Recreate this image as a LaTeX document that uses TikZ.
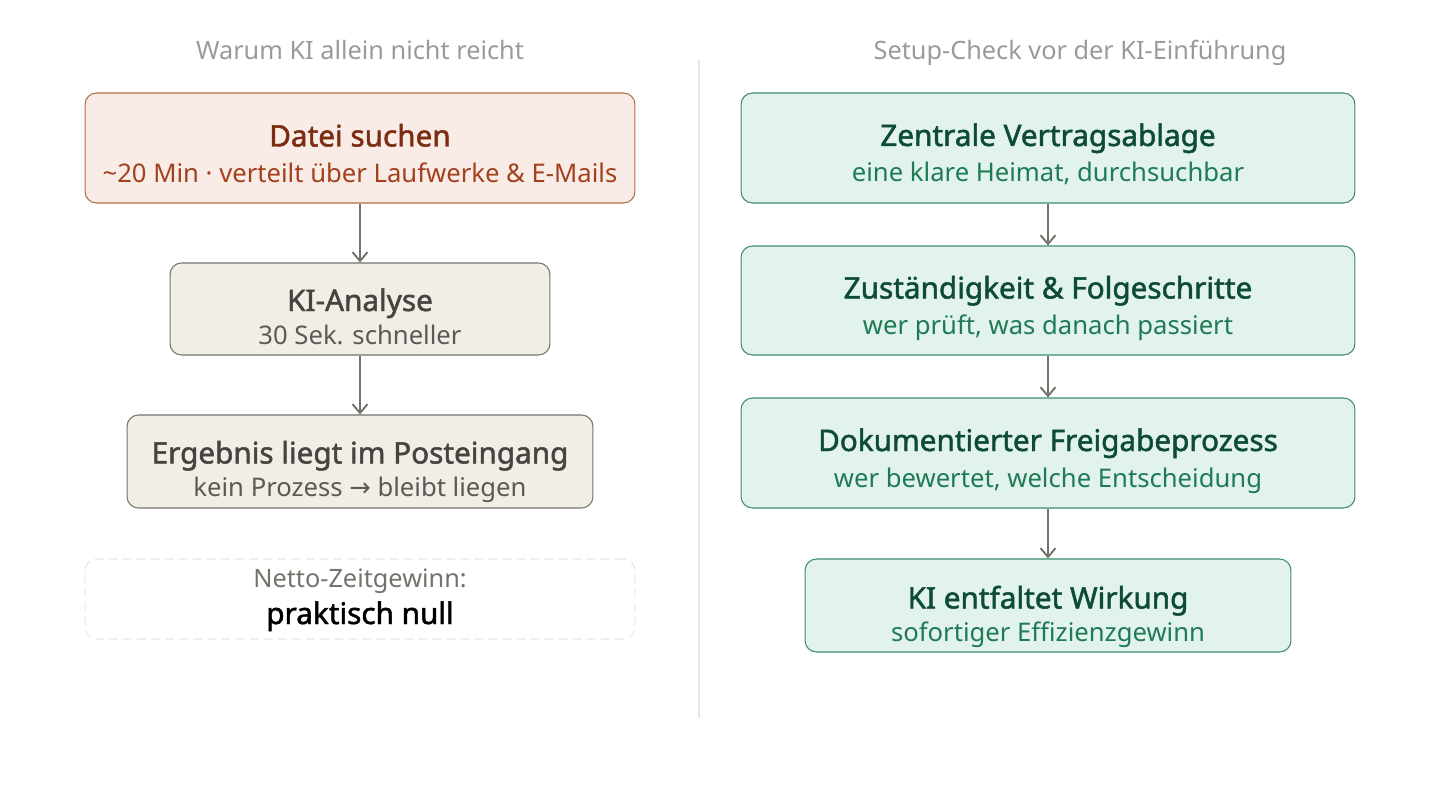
\documentclass[tikz,border=0pt]{standalone}
\usepackage{fontspec}
\setmainfont{Noto Sans}
\newfontfamily\semib[FakeBold=1.6]{Noto Sans}
\newfontfamily\symfont{DejaVu Sans}
\usetikzlibrary{positioning,arrows.meta}

\definecolor{hdgray}{HTML}{9A9A9A}
\definecolor{divgray}{HTML}{E6E6E6}
\definecolor{arrgray}{HTML}{75726C}
\definecolor{redfill}{HTML}{F9ECE7}
\definecolor{redline}{HTML}{B8694A}
\definecolor{redtitle}{HTML}{7B2D12}
\definecolor{redsub}{HTML}{A3401E}
\definecolor{begfill}{HTML}{F1EEE7}
\definecolor{begline}{HTML}{77736B}
\definecolor{begtitle}{HTML}{45443F}
\definecolor{begsub}{HTML}{5C5A55}
\definecolor{grnfill}{HTML}{E1F3EC}
\definecolor{grnline}{HTML}{3C8F6E}
\definecolor{grntitle}{HTML}{0E4A38}
\definecolor{grnsub}{HTML}{1F7A56}

\begin{document}
\begin{tikzpicture}[
  x=0.02cm, y=-0.02cm,
  >={Straight Barb[length=5pt,width=8.5pt]},
  blk/.style={draw, rounded corners=6.5pt, inner sep=0pt, line width=0.6pt},
  redbox/.style={blk, fill=redfill, draw=redline},
  begbox/.style={blk, fill=begfill, draw=begline},
  grnbox/.style={blk, fill=grnfill, draw=grnline},
  ttl/.style={anchor=base, inner sep=0pt, font=\semib\fontsize{16.9}{20}\selectfont},
  sub/.style={anchor=base, inner sep=0pt, font=\fontsize{14.6}{17.5}\selectfont},
  hd/.style={text=hdgray, text depth=0pt, font=\fontsize{14.4}{17}\selectfont},
  ar/.style={->, draw=arrgray, line width=1.1pt},
]
  \useasboundingbox (0,0) rectangle (1440,804);

  % headers and divider
  \node[hd] (hl) at (360,50) {Warum KI allein nicht reicht};
  \node[hd] (hr) at (1080,50) {Setup-Check vor der KI-Einführung};
  \coordinate (dtop) at (699,60);
  \coordinate (dbot) at (699,718);
  \draw[divgray, line width=0.6pt] (dtop) -- (dbot);

  % left column
  \node[redbox, minimum width=11cm, minimum height=2.2cm] (l1) at (360,148) {};
  \node[ttl, text=redtitle] (l1a) at (360,146.5) {Datei suchen};
  \node[sub, text=redsub] (l1b) at (360,182.5)
        {\textasciitilde20 Min · verteilt über Laufwerke \& E-Mails};

  \node[begbox, minimum width=7.6cm, minimum height=1.84cm] (l2) at (360,309) {};
  \node[ttl, text=begtitle] (l2a) at (360,311) {KI-Analyse};
  \node[sub, text=begsub] (l2b) at (360,344.5) {30 Sek. schneller};

  \node[begbox, minimum width=9.32cm, minimum height=1.86cm] (l3) at (360,461.5) {};
  \node[ttl, text=begtitle] (l3a) at (360,463.5) {Ergebnis liegt im Posteingang};
  \node[sub, text=begsub] (l3b) at (360,496.5)
        {kein Prozess {\symfont →} bleibt liegen};

  \node[draw=divgray, dashed, dash pattern=on 5pt off 3pt, rounded corners=6.5pt,
        line width=0.6pt, inner sep=0pt,
        minimum width=11cm, minimum height=1.6cm] (l4) at (360,599) {};
  \node[sub, text=arrgray, font=\fontsize{14.4}{17}\selectfont] (l4a) at (360,587)
        {Netto-Zeitgewinn:};
  \node[ttl, text=black] (l4b) at (360,624) {praktisch null};

  \draw[ar] (l1) -- (l2);
  \draw[ar] (l2) -- (l3);

  % right column
  \node[grnbox, minimum width=12.28cm, minimum height=2.2cm] (r1) at (1048,148) {};
  \node[ttl, text=grntitle] (r1a) at (1048,146) {Zentrale Vertragsablage};
  \node[sub, text=grnsub] (r1b) at (1048,182) {eine klare Heimat, durchsuchbar};

  \node[grnbox, minimum width=12.28cm, minimum height=2.18cm] (r2) at (1048,300.5) {};
  \node[ttl, text=grntitle] (r2a) at (1048,298.5) {Zuständigkeit \& Folgeschritte};
  \node[sub, text=grnsub] (r2b) at (1048,334.5) {wer prüft, was danach passiert};

  \node[grnbox, minimum width=12.28cm, minimum height=2.2cm] (r3) at (1048,453) {};
  \node[ttl, text=grntitle] (r3a) at (1048,451) {Dokumentierter Freigabeprozess};
  \node[sub, text=grnsub] (r3b) at (1048,487) {wer bewertet, welche Entscheidung};

  \node[grnbox, minimum width=9.72cm, minimum height=1.86cm] (r4) at (1048,605.5) {};
  \node[ttl, text=grntitle] (r4a) at (1048,608.5) {KI entfaltet Wirkung};
  \node[sub, text=grnsub] (r4b) at (1048,641) {sofortiger Effizienzgewinn};

  \draw[ar] (r1) -- (r2);
  \draw[ar] (r2) -- (r3);
  \draw[ar] (r3) -- (r4);
\end{tikzpicture}
\end{document}
